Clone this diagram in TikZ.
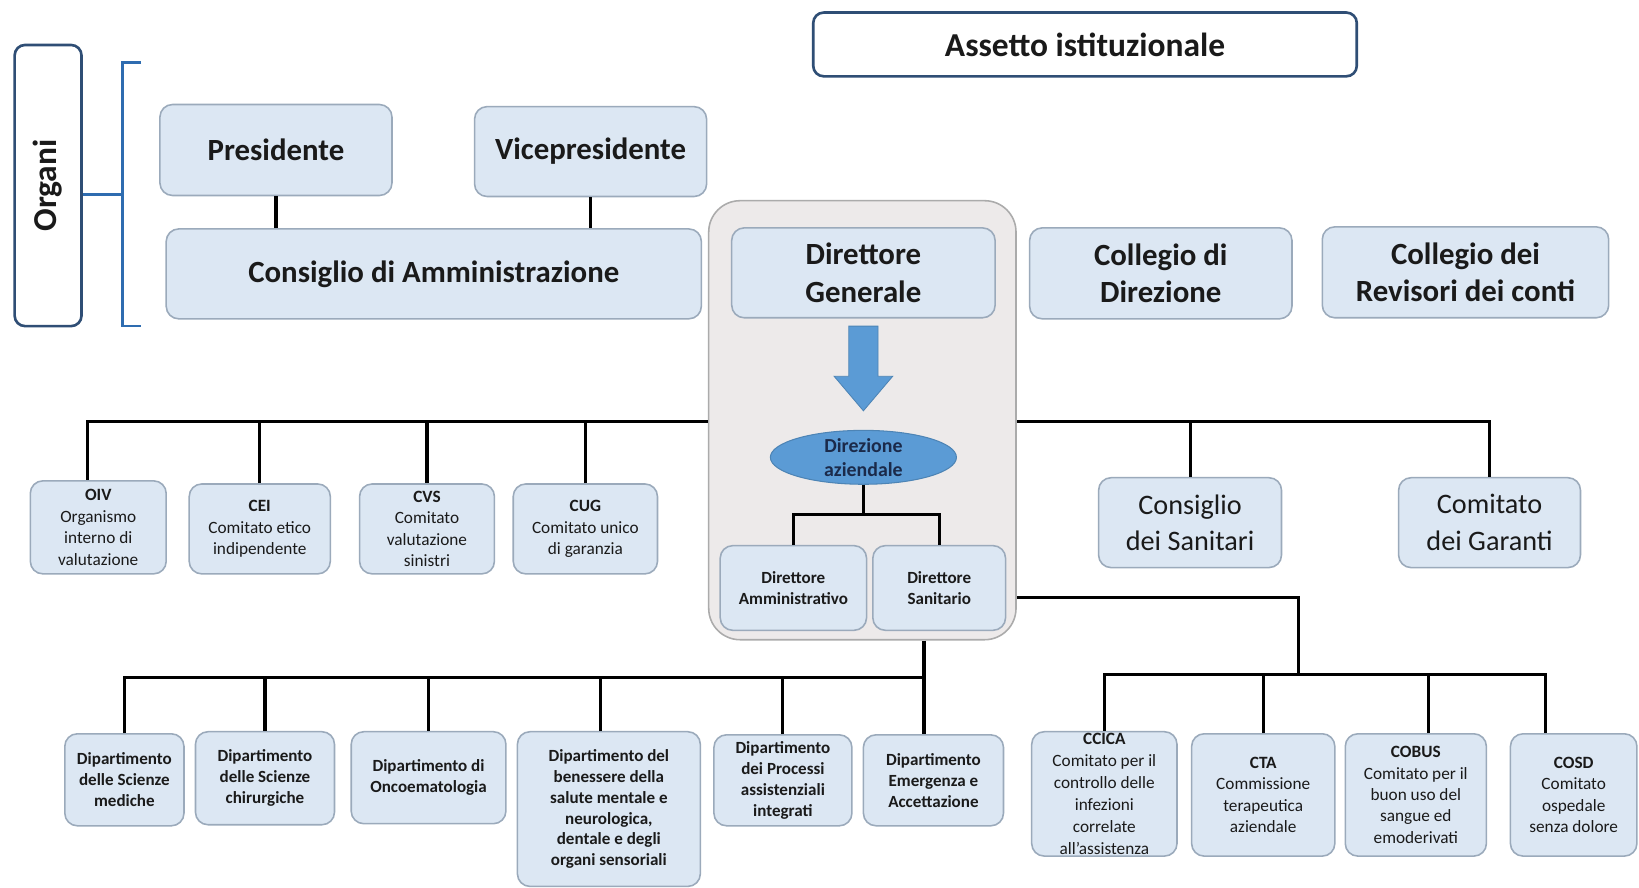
\documentclass[tikz,border=0pt]{standalone}
\usepackage{fontspec}
\setmainfont{Carlito}
\usetikzlibrary{shapes.geometric}

\definecolor{cellfill}{HTML}{DCE7F3}
\definecolor{cellline}{HTML}{9BAABB}
\definecolor{navy}{HTML}{2F4E75}
\definecolor{midblue}{HTML}{5B9BD5}
\definecolor{bracecol}{HTML}{2E6CB0}
\definecolor{panelfill}{HTML}{EDEAEA}
\definecolor{panelline}{HTML}{ABABAB}
\definecolor{ink}{HTML}{1A1A1A}
\definecolor{deepink}{HTML}{1B2A4A}

\begin{document}
\begin{tikzpicture}[
  x=1pt, y=-1pt,
  cell/.style={draw=cellline, fill=cellfill, line width=1.5pt, rounded corners=12pt,
    align=center, text=ink, inner sep=2pt},
  bigcell/.style={cell, font=\fontsize{29.5}{36}\selectfont\bfseries},
  plaincell/.style={cell, font=\fontsize{27}{35}\selectfont},
  smallcell/.style={cell, font=\fontsize{16.5}{20.5}\selectfont},
  deptcell/.style={cell, font=\fontsize{16.3}{20}\selectfont\bfseries},
  framecell/.style={draw=navy, fill=white, line width=2.5pt, rounded corners=10pt, text=ink},
  link/.style={draw=black, line width=3pt},
]

\fill[white] (0,0) rectangle (1568,849);
\useasboundingbox (0,0) rectangle (1568,849);

% title and side label
\node[framecell, minimum width=520, minimum height=61,
  font=\fontsize{32}{38}\selectfont\bfseries] (titolo) at (1038,42.5) {Assetto istituzionale};
\node[framecell, rotate=90, minimum width=269, minimum height=64,
  font=\fontsize{32}{38}\selectfont\bfseries] (organi) at (46,177.5) {Organi};
\draw[bracecol, line width=2.5pt] (135,60) -- (117,60) -- (117,312) -- (135,312);
\coordinate (bracemid) at (117,186);
\draw[bracecol, line width=2.5pt] (bracemid -| organi.south) -- (bracemid);

% organi
\node[bigcell, minimum width=222, minimum height=87] (pres) at (264,143.5) {Presidente};
\node[bigcell, minimum width=222, minimum height=86] (vice) at (565,145) {Vicepresidente};
\node[bigcell, minimum width=512, minimum height=86] (cda) at (415,262) {Consiglio di Amministrazione};
\node[bigcell, minimum width=251, minimum height=87] (cdir) at (1110.5,261.5) {Collegio di\\Direzione};
\node[bigcell, minimum width=274, minimum height=87] (crev) at (1402,260.5) {Collegio dei\\Revisori dei conti};

\draw[link] (pres.south) -- (pres.south |- cda.north);
\draw[link] (vice.south) -- (vice.south |- cda.north);

% direzione
\node[draw=panelline, fill=panelfill, line width=1.5pt, rounded corners=30pt,
  minimum width=294, minimum height=420] (panel) at (825,402) {};
\node[bigcell, minimum width=252, minimum height=86] (dg) at (826,261) {Direttore\\Generale};
\fill[midblue, draw=midblue!85!black, line width=0.8pt]
  (812,312) -- (840,312) -- (840,360) -- (854,360) -- (826,393) -- (798,360) -- (812,360) -- cycle;
\node[ellipse, fill=midblue, draw=midblue!85!black, line width=1pt, minimum width=178,
  minimum height=51, inner sep=0pt, align=center, text=deepink,
  font=\fontsize{19}{23}\selectfont\bfseries] (daz) at (826,437.5) {Direzione\\aziendale};
\node[deptcell, minimum width=140, minimum height=81] (da) at (759,562.5) {Direttore\\Amministrativo};
\node[deptcell, minimum width=127, minimum height=81] (ds) at (898.5,562.5) {Direttore\\Sanitario};

\coordinate (dsplit) at (826,492);
\draw[link] (daz.south) -- (dsplit);
\draw[link] (da.north) |- (dsplit) -| (ds.north);

% comitati di sinistra
\node[smallcell, minimum width=130, minimum height=89] (oiv) at (94,504.5)
  {{\bfseries OIV}\\Organismo\\interno di\\valutazione};
\node[smallcell, minimum width=135, minimum height=86] (cei) at (248.5,506)
  {{\bfseries CEI}\\Comitato etico\\indipendente};
\node[smallcell, minimum width=129, minimum height=86] (cvs) at (408.5,506)
  {{\bfseries CVS}\\Comitato\\valutazione\\sinistri};
\node[smallcell, minimum width=138, minimum height=86] (cug) at (560,506)
  {{\bfseries CUG}\\Comitato unico\\di garanzia};

\coordinate (lbus) at (0,403);
\coordinate (oivtop) at ([xshift=-10pt]oiv.north);
\draw[link] (panel.west |- lbus) -- (oivtop |- lbus) -- (oivtop);
\foreach \n in {cei,cvs,cug}
  \draw[link] (\n.north) -- (\n.north |- lbus);

% consigli di destra
\node[plaincell, minimum width=175, minimum height=86] (csan) at (1138.5,500) {Consiglio\\dei Sanitari};
\node[plaincell, minimum width=174, minimum height=86] (cgar) at (1425,500) {Comitato\\dei Garanti};

\draw[link] (panel.east |- lbus) -- (cgar.north |- lbus) -- (cgar.north);
\draw[link] (csan.north) -- (csan.north |- lbus);

% dipartimenti
\node[deptcell, minimum width=114, minimum height=88] (dip1) at (119,746)
  {Dipartimento\\delle Scienze\\mediche};
\node[deptcell, minimum width=133, minimum height=89] (dip2) at (253.5,744.5)
  {Dipartimento\\delle Scienze\\chirurgiche};
\node[deptcell, minimum width=148, minimum height=88] (dip3) at (410,744)
  {Dipartimento di\\Oncoematologia};
\node[deptcell, minimum width=175, minimum height=148] (dip4) at (582.5,774)
  {Dipartimento del\\benessere della\\salute mentale e\\neurologica,\\dentale e degli\\organi sensoriali};
\node[deptcell, minimum width=132, minimum height=87] (dip5) at (749,746.5)
  {Dipartimento\\dei Processi\\assistenziali\\integrati};
\node[deptcell, minimum width=134, minimum height=87] (dip6) at (893,746.5)
  {Dipartimento\\Emergenza e\\Accettazione};

\coordinate (ldrop) at (0,648);
\coordinate (d4top) at ([xshift=-8pt]dip4.north);
\coordinate (d6top) at ([xshift=-9pt]dip6.north);
\draw[link] (d6top |- panel.south) -- (d6top);
\draw[link] (dip1.north) -- (dip1.north |- ldrop) -- (d6top |- ldrop);
\foreach \n in {dip2,dip3,d4top,dip5}
  \draw[link] (\n.north) -- (\n.north |- ldrop);

% commissioni
\node[smallcell, minimum width=139, minimum height=119, inner sep=0pt,
  font=\fontsize{16.5}{21}\selectfont] (ccica) at (1056.5,759.5)
  {{\bfseries CCICA}\\Comitato per il\\controllo delle\\infezioni\\correlate\\all’assistenza};
\node[smallcell, minimum width=137, minimum height=117] (cta) at (1208.5,760.5)
  {{\bfseries CTA}\\Commissione\\terapeutica\\aziendale};
\node[smallcell, minimum width=135, minimum height=117] (cobus) at (1354.5,760.5)
  {{\bfseries COBUS}\\Comitato per il\\buon uso del\\sangue ed\\emoderivati};
\node[smallcell, minimum width=121, minimum height=117] (cosd) at (1505.5,760.5)
  {{\bfseries COSD}\\Comitato\\ospedale\\senza dolore};

\coordinate (rlink) at (0,572);
\coordinate (rdrop) at (1242,645);
\coordinate (cobustop) at ([xshift=12pt]cobus.north);
\coordinate (cosdtop) at ([xshift=-27pt]cosd.north);
\draw[link] (panel.east |- rlink) -| (rdrop);
\draw[link] (ccica.north) -- (ccica.north |- rdrop) -- (cosdtop |- rdrop) -- (cosdtop);
\foreach \n in {cta,cobustop}
  \draw[link] (\n.north) -- (\n.north |- rdrop);

\end{tikzpicture}
\end{document}
